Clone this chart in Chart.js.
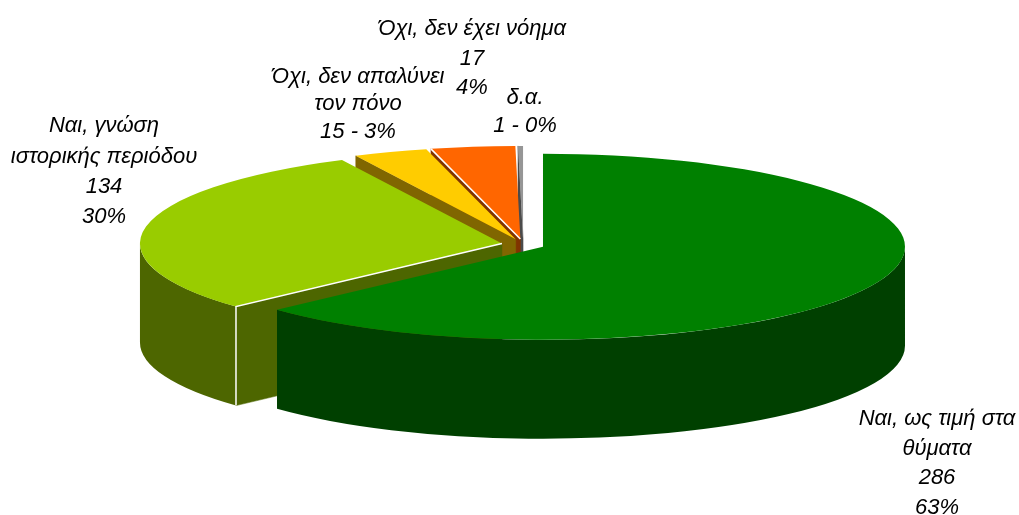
<!DOCTYPE html>
<html lang="el">
<head>
<meta charset="utf-8">
<style>html,body{margin:0;padding:0;background:#fff}canvas{display:block}</style>
<script src="https://cdn.jsdelivr.net/npm/chart.js@4"></script>
</head>
<body>
<canvas id="c" width="1019" height="515"></canvas>
<script>
const categories = ['Ναι, ως τιμή στα θύματα','Ναι, γνώση ιστορικής περιόδου','Όχι, δεν απαλύνει τον πόνο','Όχι, δεν έχει νόημα','δ.α.'];
const values = [286,134,15,17,1];
const topColors = ['#008000','#99CC00','#FFCC00','#FF6600','#969696'];
const wallColors = ['#004000','#4D6600','#806600','#803300','#4B4B4B'];
const labelLines = [
  ['Ναι, ως τιμή στα','θύματα','286','63%'],
  ['Ναι, γνώση','ιστορικής περιόδου','134','30%'],
  ['Όχι, δεν απαλύνει','τον πόνο','15 - 3%'],
  ['Όχι, δεν έχει νόημα','17','4%'],
  ['δ.α.','1 - 0%']
];
const labelCenterX = [937,104,358,472,525];
const labelLineY = [[419,449,478,508],[126,157,187,217],[77,104,132],[29,59,88],[98,126]];

const PIE_X = 523.2, PIE_Y = 244.5, RADIUS = 362, SQUASH = 0.257, DEPTH = 99, EXPLODE = 21.6;
const whiteEdges = [1,3];
let baseX = 0, baseY = 0;

function geom(arc){
  const cx = PIE_X + (arc.x - baseX);
  const cy = PIE_Y + (arc.y - baseY) * SQUASH;
  const r = arc.outerRadius;
  const at = a => [cx + r * Math.cos(a), cy + r * SQUASH * Math.sin(a)];
  return {cx, cy, r, at};
}
function radialWall(ctx, g, a, color){
  const e = g.at(a);
  ctx.fillStyle = color;
  ctx.strokeStyle = color;
  ctx.lineWidth = 0.5;
  ctx.beginPath();
  ctx.moveTo(g.cx, g.cy);
  ctx.lineTo(e[0], e[1]);
  ctx.lineTo(e[0], e[1] + DEPTH);
  ctx.lineTo(g.cx, g.cy + DEPTH);
  ctx.closePath();
  ctx.fill();
  ctx.stroke();
}
const pie3d = {
  id: 'pie3d',
  afterDatasetsUpdate(chart){
    const arcs = chart.getDatasetMeta(0).data;
    baseX = (chart.chartArea.left + chart.chartArea.right) / 2;
    baseY = (chart.chartArea.top + chart.chartArea.bottom) / 2;
    arcs.forEach(arc => {
      const mid = (arc.startAngle + arc.endAngle) / 2;
      arc.x = baseX + Math.cos(mid) * EXPLODE;
      arc.y = baseY + Math.sin(mid) * EXPLODE;
    });
  },
  beforeDatasetsDraw(chart){
    const ctx = chart.ctx, arcs = chart.getDatasetMeta(0).data;
    ctx.save();
    for (let i = arcs.length - 1; i >= 0; i--){
      const arc = arcs[i], g = geom(arc), color = wallColors[i];
      if (Math.cos(arc.startAngle) < -1e-6) radialWall(ctx, g, arc.startAngle, color);
      if (Math.cos(arc.endAngle) > 1e-6) radialWall(ctx, g, arc.endAngle, color);
      const a0 = Math.max(arc.startAngle, 0), a1 = Math.min(arc.endAngle, Math.PI);
      if (a1 > a0){
        ctx.fillStyle = color;
        ctx.beginPath();
        ctx.ellipse(g.cx, g.cy, g.r, g.r * SQUASH, 0, a0, a1);
        ctx.ellipse(g.cx, g.cy + DEPTH, g.r, g.r * SQUASH, 0, a1, a0, true);
        ctx.closePath();
        ctx.fill();
      }
    }
    ctx.restore();
    ctx.save();
    ctx.translate(PIE_X, PIE_Y);
    ctx.scale(1, SQUASH);
    ctx.translate(-baseX, -baseY);
  },
  afterDatasetsDraw(chart){
    const ctx = chart.ctx, arcs = chart.getDatasetMeta(0).data;
    ctx.restore();
    ctx.save();
    ctx.strokeStyle = '#fff';
    ctx.lineWidth = 1.5;
    whiteEdges.forEach(i => {
      const g = geom(arcs[i]), e = g.at(arcs[i].startAngle);
      ctx.beginPath();
      ctx.moveTo(g.cx, g.cy);
      ctx.lineTo(e[0], e[1]);
      if (i === 1) ctx.lineTo(e[0], e[1] + DEPTH);
      ctx.stroke();
    });
    ctx.fillStyle = '#000';
    ctx.font = 'italic 22px "Liberation Sans", Arial, sans-serif';
    ctx.textAlign = 'center';
    ctx.textBaseline = 'middle';
    labelLines.forEach((lines, i) => lines.forEach((t, j) => ctx.fillText(t, labelCenterX[i], labelLineY[i][j])));
    ctx.restore();
  }
};
new Chart(document.getElementById('c'), {
  type: 'pie',
  data: {
    labels: categories,
    datasets: [{
      data: values,
      backgroundColor: topColors,
      borderWidth: 0,
      clip: false
    }]
  },
  options: {
    responsive: false,
    animation: false,
    radius: RADIUS,
    layout: {padding: 0},
    events: [],
    plugins: {legend: {display: false}, tooltip: {enabled: false}}
  },
  plugins: [pie3d]
});
</script>
</body>
</html>
